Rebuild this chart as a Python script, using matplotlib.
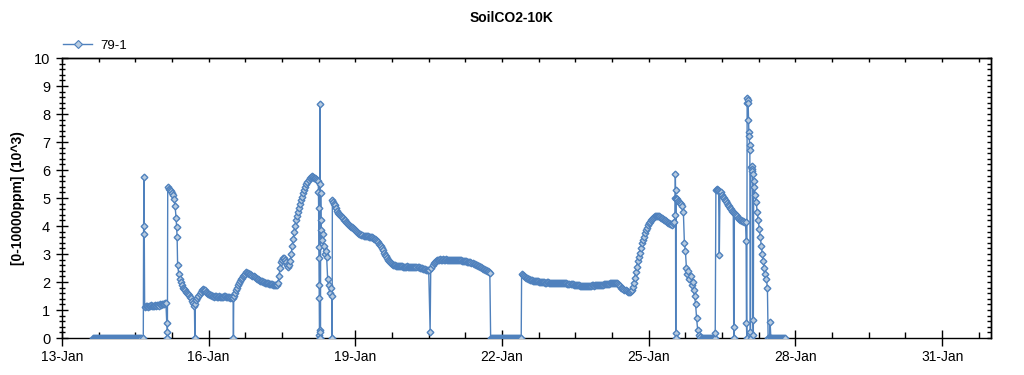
import numpy as np
import pandas as pd
import matplotlib
matplotlib.use("Agg")
import matplotlib.pyplot as plt
import matplotlib.dates as mdates
from matplotlib.ticker import MultipleLocator, FixedLocator
from matplotlib.lines import Line2D

plt.rcParams['font.family'] = ['Liberation Sans', 'DejaVu Sans']

# ---------------- data ----------------
title = "SoilCO2-10K"
y_label = "[0-10000ppm] (10^3)"
series_name = "79-1"
base_time = "2014-01-13 00:00"

tick_dates = ["2014-01-13", "2014-01-16", "2014-01-19", "2014-01-22",
              "2014-01-25", "2014-01-28", "2014-01-31"]
tick_labels = ["13-Jan", "16-Jan", "19-Jan", "22-Jan", "25-Jan", "28-Jan", "31-Jan"]
x_end = "2014-02-01"

# each segment: start (hours after base_time), sampling step (hours), values (10^3 ppm)
seg_start_h = [15, 39.9, 41, 51.4, 52.5, 56.0, 57.3, 65.0, 66, 84.15, 85,
               125.8, 127.4, 132.6, 133, 180.7, 182, 210.4, 225.6, 300.9,
               301.5, 314, 320.3, 323.5, 329.7, 330.5, 335.8, 338.5, 339.75,
               346.6, 348]
seg_step_h = [0.5, 1/6, 0.5, 1/6, 0.5, 0.25, 0.5, 0.2, 0.5, 0.15, 0.5,
              1/12, 0.5, 0.1, 0.5, 0.3, 0.5, 0.5, 0.5, 1/12,
              0.5, 0.5, 1/3, 0.5, 1/6, 0.5, 1/6, 1/6, 0.5,
              1/3, 0.5]

v01 = [0, 0, 0, 0, 0, 0, 0, 0, 0, 0, 0, 0, 0, 0, 0, 0, 0, 0, 0, 0, 0, 0, 0, 0,
       0, 0, 0, 0, 0, 0, 0, 0, 0, 0, 0, 0, 0, 0, 0, 0, 0, 0, 0, 0, 0, 0, 0, 0, 0]
v02 = [0, 4.0, 5.75, 3.7, 1.12]
v03 = [1.13, 1.15, 1.12, 1.16, 1.14, 1.17, 1.15, 1.13, 1.16, 1.18, 1.15, 1.17,
       1.19, 1.16, 1.2, 1.18, 1.21, 1.22, 1.2, 1.24, 1.26]
v04 = [0.52, 0.2, 0.0, 5.39]
v05 = [5.33, 5.3, 5.25, 5.18, 5.1, 4.95, 4.7]
v06 = [4.3, 3.98, 3.62, 2.6]
v07 = [2.3, 2.12, 2.0, 1.9, 1.8, 1.75, 1.7, 1.66, 1.62, 1.57, 1.52, 1.47, 1.42,
       1.33, 1.25]
v08 = [1.15, 0.0, 1.2]
v09 = [1.35, 1.42, 1.5, 1.58, 1.65, 1.71, 1.74, 1.73, 1.7, 1.66, 1.62, 1.58,
       1.56, 1.53, 1.52, 1.5, 1.5, 1.47, 1.49, 1.51, 1.48, 1.46, 1.5, 1.48,
       1.48, 1.45, 1.47, 1.49, 1.49, 1.46, 1.46, 1.48, 1.47, 1.44, 1.45, 1.43,
       1.42]
v10 = [0.0, 1.5]
v11 = [1.62, 1.7, 1.8, 1.88, 1.95, 2.03, 2.1, 2.15, 2.2, 2.26, 2.3, 2.34, 2.33,
       2.31, 2.3, 2.27, 2.25, 2.22, 2.2, 2.17, 2.15, 2.12, 2.1, 2.07, 2.05,
       2.04, 2.02, 2.0, 2.0, 1.98, 1.97, 1.96, 1.95, 1.94, 1.93, 1.92, 1.92,
       1.9, 1.9, 1.89, 1.88, 1.9, 1.95, 2.2, 2.5, 2.7, 2.8, 2.86, 2.85, 2.78,
       2.7, 2.6, 2.55, 2.6, 2.75, 3.0, 3.3, 3.55, 3.8, 4.0, 4.2, 4.35, 4.5,
       4.65, 4.8, 4.93, 5.05, 5.18, 5.3, 5.4, 5.5, 5.58, 5.65, 5.71, 5.76,
       5.77, 5.75, 5.73, 5.7, 5.67, 5.65]
v12 = [5.6, 5.2, 4.66, 3.26, 2.85, 1.9, 1.42, 0.1, 0.0, 0.3, 5.5, 8.35, 0.2,
       0.0, 5.17, 4.2, 3.86]
v13 = [3.5, 3.7, 3.3, 3.0, 3.1, 2.9, 2.1, 1.9, 1.6, 1.8, 1.5]
v14 = [0.0, 4.93]
v15 = [4.85, 4.8, 4.75, 4.65, 4.55, 4.48, 4.42, 4.38, 4.35, 4.31,
       4.27, 4.23, 4.2, 4.16, 4.12, 4.08, 4.05, 4.01, 3.98, 3.95,
       3.92, 3.88, 3.85, 3.81, 3.78, 3.75, 3.72, 3.7, 3.69, 3.67,
       3.66, 3.65, 3.64, 3.63, 3.63, 3.62, 3.62, 3.61, 3.6, 3.58,
       3.55, 3.53, 3.5, 3.46, 3.42, 3.37, 3.32, 3.27, 3.22, 3.14,
       3.05, 2.98, 2.92, 2.86, 2.8, 2.75, 2.7, 2.67, 2.64, 2.62,
       2.6, 2.59, 2.58, 2.57, 2.57, 2.56, 2.56, 2.57, 2.56, 2.55,
       2.55, 2.54, 2.55, 2.56, 2.54, 2.53, 2.55, 2.54, 2.53, 2.54,
       2.54, 2.53, 2.52, 2.53, 2.52, 2.51, 2.5, 2.49, 2.48, 2.47,
       2.45, 2.44, 2.43, 2.42, 2.42]
v16 = [0.23, 2.5]
v17 = [2.62, 2.68, 2.72, 2.76, 2.78, 2.79, 2.8, 2.81, 2.8, 2.79,
       2.81, 2.8, 2.8, 2.82, 2.8, 2.79, 2.8, 2.78, 2.79, 2.8,
       2.8, 2.79, 2.78, 2.8, 2.79, 2.77, 2.77, 2.78, 2.78, 2.76,
       2.76, 2.75, 2.75, 2.74, 2.73, 2.72, 2.72, 2.7, 2.68, 2.67,
       2.66, 2.64, 2.62, 2.6, 2.58, 2.56, 2.55, 2.52, 2.5, 2.48,
       2.46, 2.44, 2.42, 2.4, 2.38, 2.36, 2.33]
v18 = [0, 0, 0, 0, 0, 0, 0, 0, 0, 0, 0, 0, 0, 0, 0, 0, 0, 0, 0, 0, 0, 0, 0, 0,
       0, 0, 0, 0, 0, 0, 0]
v19 = [2.27, 2.25, 2.22, 2.19, 2.16, 2.14, 2.12, 2.1, 2.08, 2.07,
       2.06, 2.05, 2.04, 2.04, 2.03, 2.02, 2.02, 2.01, 2.0, 2.01,
       2.0, 1.99, 1.99, 1.98, 1.98, 1.99, 1.99, 1.98, 1.98, 1.97,
       1.97, 1.98, 1.98, 1.97, 1.97, 1.96, 1.96, 1.97, 1.97, 1.96,
       1.96, 1.95, 1.95, 1.96, 1.95, 1.94, 1.94, 1.93, 1.93, 1.92,
       1.92, 1.91, 1.9, 1.89, 1.89, 1.88, 1.88, 1.87, 1.86, 1.85,
       1.84, 1.84, 1.85, 1.86, 1.86, 1.85, 1.85, 1.86, 1.87, 1.88,
       1.88, 1.87, 1.88, 1.89, 1.89, 1.9, 1.9, 1.9, 1.9, 1.91,
       1.91, 1.92, 1.92, 1.93, 1.93, 1.94, 1.94, 1.95, 1.95, 1.96,
       1.96, 1.97, 1.97, 1.96, 1.95, 1.92, 1.88, 1.84, 1.8, 1.77,
       1.75, 1.72, 1.7, 1.68, 1.66, 1.65, 1.65, 1.68, 1.72, 1.82,
       1.95, 2.15, 2.35, 2.55, 2.75, 2.9, 3.05, 3.22, 3.38, 3.5,
       3.62, 3.74, 3.85, 3.94, 4.02, 4.09, 4.15, 4.2, 4.25, 4.29,
       4.32, 4.34, 4.36, 4.36, 4.35, 4.34, 4.32, 4.3, 4.28, 4.25,
       4.22, 4.2, 4.18, 4.15, 4.12, 4.09, 4.07, 4.06, 4.05, 4.1,
       4.15]
v20 = [4.4, 5.0, 5.84, 5.29, 0.19, 0.0, 5.0]
v21 = [4.97, 4.95, 4.9, 4.85, 4.82, 4.78, 4.7, 4.5, 3.4, 3.1, 2.5, 2.3, 2.4,
       2.1, 2.2, 1.9, 2.0, 1.7, 1.5, 1.2, 0.7, 0.3, 0.1, 0.03]
v22 = [0, 0, 0, 0, 0, 0, 0, 0, 0, 0, 0, 0, 0]
v23 = [0.0, 0.19, 5.29, 5.32, 5.3, 5.28, 5.25, 2.95, 5.22]
v24 = [5.2, 5.12, 5.05, 4.99, 4.93, 4.88, 4.82, 4.76, 4.7, 4.65, 4.6, 4.55, 4.5]
v25 = [0.4, 0.0, 4.48]
v26 = [4.42, 4.38, 4.35, 4.3, 4.25, 4.22, 4.2, 4.18, 4.17, 4.16, 4.15]
v27 = [3.48, 0.52, 0.0, 8.4, 8.56, 8.5, 8.38, 7.79, 7.37, 7.2, 6.9, 6.7, 0.2,
       0.0, 6.1]
v28 = [6.15, 6.05, 5.95, 5.85, 0.64, 0.11, 5.6]
v29 = [5.4, 5.1, 4.85, 4.5, 4.2, 3.9, 3.6, 3.3, 3.0, 2.75, 2.5, 2.3, 2.1, 1.8]
v30 = [0.0, 0.0, 0.0, 0.56, 0.0]
v31 = [0, 0, 0, 0, 0, 0, 0, 0, 0, 0, 0, 0, 0, 0, 0]

seg_values = [v01, v02, v03, v04, v05, v06, v07, v08, v09, v10, v11, v12, v13,
              v14, v15, v16, v17, v18, v19, v20, v21, v22, v23, v24, v25, v26,
              v27, v28, v29, v30, v31]

# ---------------- assemble ----------------
t0 = pd.Timestamp(base_time)
times, vals = [], []
for st, stp, vv in zip(seg_start_h, seg_step_h, seg_values):
    for i, v in enumerate(vv):
        times.append(t0 + pd.to_timedelta(st + stp * i, unit="h"))
        vals.append(v)
times = pd.to_datetime(times)

# ---------------- figure ----------------
line_color = "#4F81BD"
face_color = "#B9CCE0"

fig = plt.figure(figsize=(10.24, 3.75), dpi=100)
ax = fig.add_axes([62 / 1024, 1 - 338 / 375, (991 - 62) / 1024, (338 - 58) / 375])

ax.plot(times, vals, color=line_color, lw=1.0, marker="D", ms=3.4,
        mfc=face_color, mec=line_color, mew=1.0, zorder=3)

ax.set_xlim(mdates.date2num(pd.Timestamp(tick_dates[0])), mdates.date2num(pd.Timestamp(x_end)))
ax.set_ylim(0, 10)

ax.xaxis.set_major_locator(FixedLocator(mdates.date2num(pd.to_datetime(tick_dates))))
ax.xaxis.set_minor_locator(MultipleLocator(0.75))
ax.set_xticklabels(tick_labels)
ax.yaxis.set_major_locator(MultipleLocator(1))
ax.yaxis.set_minor_locator(MultipleLocator(0.2))

for sp in ax.spines.values():
    sp.set_linewidth(1.0)
    sp.set_color("black")

ax.tick_params(axis="x", which="major", direction="inout", length=11, width=1,
               labelsize=10, pad=3, colors="black")
ax.tick_params(axis="x", which="minor", direction="in", length=4, width=1)
ax.tick_params(axis="y", which="major", direction="inout", length=9, width=1,
               labelsize=10.5, pad=4, colors="black")
ax.tick_params(axis="y", which="minor", direction="inout", length=5, width=1)

# top / right mirror ticks (inward only)
secx = ax.secondary_xaxis("top")
secx.xaxis.set_major_locator(FixedLocator(mdates.date2num(pd.to_datetime(tick_dates))))
secx.xaxis.set_minor_locator(MultipleLocator(0.75))
secx.tick_params(axis="x", which="both", direction="in", length=3, width=1, labeltop=False)
secx.spines["top"].set_linewidth(1.0)
secy = ax.secondary_yaxis("right")
secy.yaxis.set_major_locator(MultipleLocator(1))
secy.yaxis.set_minor_locator(MultipleLocator(0.2))
secy.tick_params(axis="y", which="both", direction="in", length=3, width=1, labelright=False)
secy.spines["right"].set_linewidth(1.0)

fig.text(0.5, 1 - 18 / 375, title, ha="center", va="center",
         fontsize=10, fontweight="bold")
fig.text(18 / 1024, 1 - 198 / 375, y_label, ha="center", va="center",
         rotation=90, fontsize=10, fontweight="bold")

handle = Line2D([], [], color=line_color, lw=1.0, marker="D", ms=4.5,
                mfc=face_color, mec=line_color, mew=0.8)
fig.legend([handle], [series_name], loc="center left",
           bbox_to_anchor=(63 / 1024, 1 - 45.5 / 375), frameon=False,
           fontsize=9.5, handlelength=2.2, handletextpad=0.6, borderpad=0,
           borderaxespad=0)

fig.savefig("out.png", dpi=100)
